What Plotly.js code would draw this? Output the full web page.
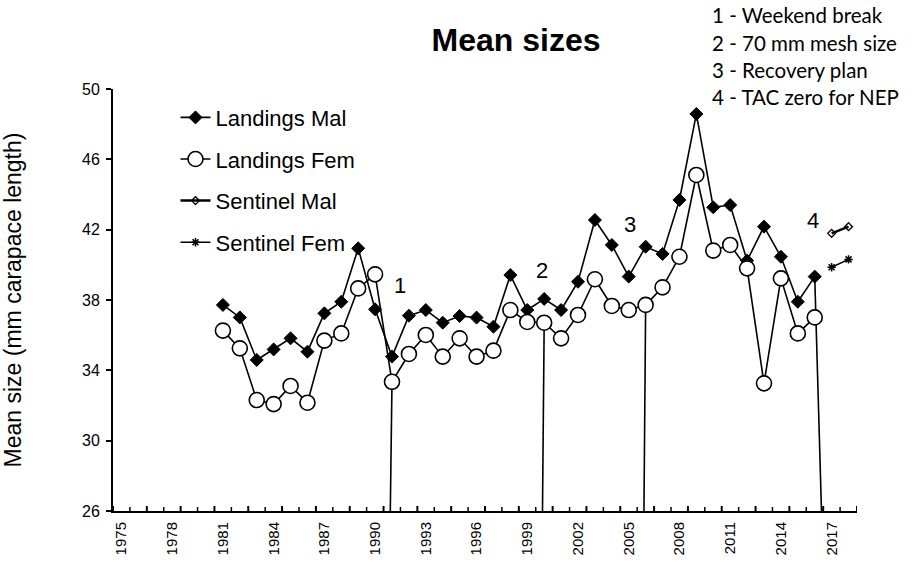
<!DOCTYPE html>
<html>
<head>
<meta charset="utf-8">
<script src="https://cdn.plot.ly/plotly-3.0.1.min.js"></script>
<style>html,body{margin:0;padding:0;background:#fff;}#chart{width:918px;height:562px;}</style>
</head>
<body>
<div id="chart"></div>
<script>
// ---- data ----
var years = [1981,1982,1983,1984,1985,1986,1987,1988,1989,1990,1991,1992,1993,1994,1995,1996,1997,1998,1999,2000,2001,2002,2003,2004,2005,2006,2007,2008,2009,2010,2011,2012,2013,2014,2015,2016];
var landingsMal = [37.72,37.01,34.59,35.19,35.82,35.06,37.24,37.90,40.94,37.47,34.78,37.11,37.43,36.71,37.09,37.00,36.48,39.42,37.43,38.06,37.43,39.04,42.55,41.13,39.33,41.03,40.62,43.69,48.58,43.27,43.40,40.24,42.17,40.46,37.90,39.33];
var landingsFem = [36.26,35.25,32.31,32.08,33.11,32.16,35.69,36.10,38.66,39.46,33.35,34.93,36.01,34.78,35.82,34.78,35.12,37.43,36.75,36.71,35.82,37.15,39.18,37.66,37.43,37.72,38.72,40.46,45.11,40.81,41.13,39.80,33.26,39.23,36.10,37.01];
var sentinelYears = [2017,2018];
var sentinelMal = [41.79,42.17];
var sentinelFem = [39.86,40.31];
var tickYears = [1975,1978,1981,1984,1987,1990,1993,1996,1999,2002,2005,2008,2011,2014,2017];
var yTicks = [26,30,34,38,42,46,50];
// events: year of the marker line, where its foot lands on the axis, which series it rises to
var eventYears = [1991,2000,2006,2016];
var eventFoot = [1990.9,1999.9,2005.9,2016.4];
var eventSeries = ['fem','fem','fem','mal'];
var eventNums = ['1','2','3','4'];
var eventLabelX = [1991.5,1999.9,2005.1,2015.9];
var eventLabelY = [38.8,39.7,42.3,42.5];
var notes = ['1 - Weekend break','2 - 70 mm mesh size','3 - Recovery plan','4 - TAC zero for NEP'];
var yMin = 26, yMax = 50;
var xFirst = 1974.5, xLast = 2018.5;

(function () {
var ARIAL = 'Liberation Sans, Arial, sans-serif';

// event line trace
var ex = [], ey = [];
for (var i = 0; i < eventYears.length; i++) {
  var idx = years.indexOf(eventYears[i]);
  var topVal = eventSeries[i] === 'fem' ? landingsFem[idx] : landingsMal[idx];
  ex.push(eventYears[i], eventFoot[i], null);
  ey.push(topVal, yMin, null);
}

var traces = [
  {x: ex, y: ey, mode: 'lines', line: {color: '#000', width: 1.6}, showlegend: false, hoverinfo: 'skip'},
  {x: years, y: landingsMal, name: 'Landings Mal', legendgroup: 'a', mode: 'lines+markers',
   line: {color: '#000', width: 1.6}, marker: {symbol: 'diamond', size: 10, color: '#000', line: {color: '#000', width: 1}}},
  {x: years, y: landingsFem, name: 'Landings Fem', legendgroup: 'b', mode: 'lines+markers',
   line: {color: '#000', width: 1.6}, marker: {symbol: 'circle', size: 15, color: '#fff', line: {color: '#000', width: 1.6}}},
  {x: sentinelYears, y: sentinelMal, name: 'Sentinel Mal', legendgroup: 'c', mode: 'lines+markers',
   line: {color: '#000', width: 2.5}, marker: {symbol: 'diamond-open', size: 6, color: '#000', line: {color: '#000', width: 1.3}}},
  {x: sentinelYears, y: sentinelFem, name: 'Sentinel Fem', legendgroup: 'd', mode: 'lines+markers',
   line: {color: '#000', width: 1.6}, marker: {symbol: 'asterisk-open', size: 7, color: '#000', line: {color: '#000', width: 1.5}}}
];

var L = 113, R = 61, T = 89, B = 51, W = 918, H = 562;
var pw = W - L - R, ph = H - T - B;

var annotations = [];
for (var j = 0; j < eventNums.length; j++) {
  annotations.push({x: eventLabelX[j], y: eventLabelY[j], xref: 'x', yref: 'y', text: eventNums[j], showarrow: false,
    font: {family: ARIAL, size: 22, color: '#000'}, xanchor: 'center', yanchor: 'middle'});
}
var noteY = [15, 43, 70, 97];
for (var k = 0; k < notes.length; k++) {
  annotations.push({x: (710 - L) / pw, y: (H - B - noteY[k]) / ph, xref: 'paper', yref: 'paper', text: notes[k], showarrow: false,
    font: {family: 'Lato, Carlito, Calibri, sans-serif', size: 20.5, color: '#000'}, xanchor: 'left', yanchor: 'middle'});
}

// category-boundary tick marks on the x axis (major every 2, minor between)
var shapes = [];
for (var t = xFirst, n = 0; t <= xLast + 1e-9; t += 1, n++) {
  var major = (n % 2 === 0);
  shapes.push({type: 'line', xref: 'x', yref: 'y', ysizemode: 'pixel', yanchor: yMin,
    x0: t, x1: t, y0: major ? -5 : 0, y1: major ? 5 : 4,
    line: {color: '#000', width: major ? 2 : 1.5}});
}

var layout = {
  width: W, height: H, autosize: false,
  margin: {l: L, r: R, t: T, b: B, pad: 0},
  paper_bgcolor: '#fff', plot_bgcolor: '#fff',
  font: {family: ARIAL, color: '#000'},
  title: {text: '<b>Mean sizes</b>', font: {family: ARIAL, size: 32, color: '#000'},
          x: 516 / W, xanchor: 'center', y: 1 - 40 / H, yanchor: 'middle'},
  showlegend: true,
  legend: {x: 0.084, y: 0.982, xanchor: 'left', yanchor: 'top', bgcolor: 'rgba(0,0,0,0)',
           font: {family: ARIAL, size: 22, color: '#000'}, tracegroupgap: 10, traceorder: 'grouped'},
  xaxis: {range: [xFirst, xLast], tickmode: 'array', tickvals: tickYears, ticktext: tickYears.map(function (v) { return String(v); }), tickangle: -90,
          ticks: '', ticklabelstandoff: 3, showline: true, linecolor: '#000', linewidth: 2, showgrid: false, zeroline: false,
          tickfont: {family: ARIAL, size: 15, color: '#000'}},
  yaxis: {range: [yMin, yMax], tickmode: 'array', tickvals: yTicks, ticks: 'outside', ticklen: 5, tickwidth: 2, tickcolor: '#000',
          ticklabelstandoff: 3, showline: true, linecolor: '#000', linewidth: 2, showgrid: false, zeroline: false,
          tickfont: {family: ARIAL, size: 16, color: '#000'},
          title: {text: 'Mean size (mm carapace length)', font: {family: ARIAL, size: 23, color: '#000'}, standoff: 58}},
  annotations: annotations,
  shapes: shapes
};

Plotly.newPlot('chart', traces, layout, {displayModeBar: false, staticPlot: true});
})();
</script>
</body>
</html>
